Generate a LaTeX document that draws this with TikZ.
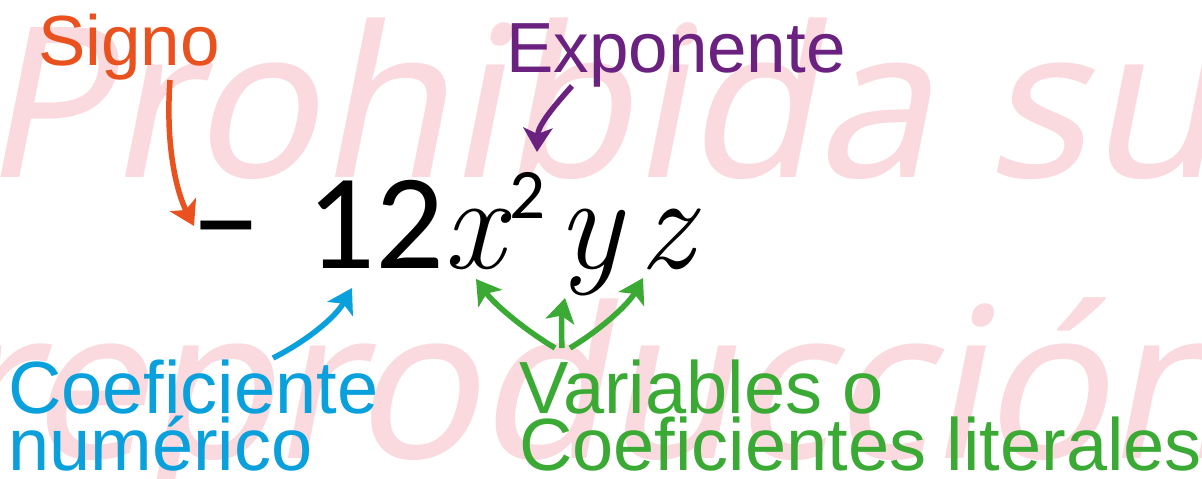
\documentclass[tikz,border=0pt]{standalone}
\usepackage{fontspec}
\setmainfont{Liberation Sans}
\newfontfamily\wmfont[FakeSlant=0.2]{Noto Sans}
\newfontfamily\wmfonttight[FakeSlant=0.2,LetterSpace=-1]{Noto Sans}
\newfontfamily\numfont{Carlito}
\newfontfamily\lmfont{Latin Modern Roman}
\usetikzlibrary{arrows.meta}
\definecolor{wmpink}{RGB}{250,218,222}
\definecolor{cSigno}{RGB}{233,82,30}
\definecolor{cExpo}{RGB}{106,33,128}
\definecolor{cCoef}{RGB}{10,160,220}
\definecolor{cVar}{RGB}{58,170,53}
\tikzset{
  wmtext/.style={anchor=base west, inner sep=0pt, text=wmpink},
  lbl/.style={anchor=base west, inner sep=0pt, align=left, font=\fontsize{71}{57}\selectfont},
  lbltwo/.style={anchor=base west, inner sep=0pt, align=left, font=\fontsize{74}{57}\selectfont},
  big/.style={anchor=base, inner sep=0pt, font=\numfont\fontsize{136}{136}\selectfont},
  var/.style={anchor=base, inner sep=0pt, font=\lmfont\itshape\fontsize{135}{135}\selectfont},
  sup/.style={anchor=base, inner sep=0pt, font=\numfont\fontsize{71}{71}\selectfont},
  arr/.style={line width=5.5pt, -{Stealth[length=24pt,width=29pt,inset=6pt]}},
}
\begin{document}
\begin{tikzpicture}[x=1pt,y=-1pt]
\path[use as bounding box, fill=white] (0,0) rectangle (1202,479);
\begin{scope}
\clip (0,0) rectangle (1202,479);
\node[wmtext, font=\wmfont\fontsize{210}{210}\selectfont] (wm1) at (-20,177) {Prohibida su};
\node[wmtext, font=\wmfonttight\fontsize{210}{210}\selectfont] (wm2) at (-54,458) {reproducción};
\end{scope}
% formula
\node[big] (minus) at (226,268) {−};
\node[big] (num) at (375,268) {12};
\node[var] (vx) at (474,268) {x};
\node[sup] (ex) at (527,218) {2};
\node[var] (vy) at (590,268) {y};
\node[var] (vz) at (666,268) {z};
% labels
\node[lbl, text=cSigno] (signo) at (38,65) {Signo};
\node[lbl, text=cExpo] (expo) at (506,72) {Exponente};
\node[lbltwo, text=cCoef] (coef) at (8,470) {Coeficiente\\numérico};
\node[lbltwo, text=cVar] (vars) at (519,470) {Variables o\\Coeficientes literales};
% arrow ends
\coordinate (sS) at (170,80);
\coordinate (sT) at (194,226);
\coordinate (eS) at (572,86);
\coordinate (eT) at (537,152);
\coordinate (cS) at (273,358);
\coordinate (cT) at (352,288);
\coordinate (vS1) at (555,348);
\coordinate (vT1) at (476,279);
\coordinate (vS2) at (562,348);
\coordinate (vT2) at (565,298);
\coordinate (vS3) at (570,348);
\coordinate (vT3) at (643,278);
\draw[arr, cSigno] (sS) .. controls (165,150) and (178,195) .. (sT);
\draw[arr, cExpo] (eS) .. controls (555,105) and (538,125) .. (eT);
\draw[arr, cCoef] (cS) .. controls (305,342) and (335,318) .. (cT);
\draw[arr, cVar] (vS1) .. controls (525,330) and (495,305) .. (vT1);
\draw[arr, cVar] (vS2) .. controls (561,325) and (562,312) .. (vT2);
\draw[arr, cVar] (vS3) .. controls (600,330) and (628,305) .. (vT3);
\end{tikzpicture}
\end{document}
